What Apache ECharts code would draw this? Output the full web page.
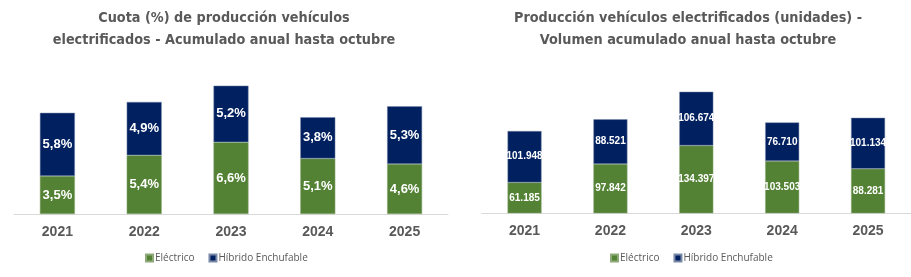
<!DOCTYPE html>
<html>
<head>
<meta charset="utf-8">
<script src="https://cdn.jsdelivr.net/npm/echarts@6/dist/echarts.min.js"></script>
<style>
  body { margin: 0; background: #fff; }
  #wrap { width: 911px; height: 277px; display: flex; }
  #cuotaChart { width: 455px; height: 277px; }
  #volumenChart { width: 456px; height: 277px; }
</style>
</head>
<body>
<div id="wrap">
  <div id="cuotaChart"></div>
  <div id="volumenChart"></div>
</div>
<script>
// datos
const anios = ['2021', '2022', '2023', '2024', '2025'];
const cuotaElectrico = [3.5, 5.4, 6.6, 5.1, 4.6];
const cuotaHibrido = [5.8, 4.9, 5.2, 3.8, 5.3];
const volElectrico = [61185, 97842, 134397, 103503, 88281];
const volHibrido = [101948, 88521, 106674, 76710, 101134];
const nombres = ['Eléctrico', 'Híbrido Enchufable'];

const VERDE = '#548235';
const AZUL = '#002060';
const GRIS = '#595959';

const fmtPct = v => v.toFixed(1).replace('.', ',') + '%';
const fmtMiles = v => String(v).replace(/\B(?=(\d{3})+(?!\d))/g, '.');

function titulo(lineas, x) {
    return lineas.map((t, i) => ({
        type: 'text',
        x: x,
        y: 18.5 + i * 22,
        style: {
            text: t,
            fill: GRIS,
            font: 'bold 14.3px "DejaVu Sans Condensed", sans-serif',
            textAlign: 'center',
            textVerticalAlign: 'middle'
        }
    }));
}

function getOption(cfg) {
    return {
        animation: false,
        graphic: titulo(cfg.titulo, cfg.tituloX),
        legend: {
            data: nombres,
            left: cfg.legendLeft,
            top: 248,
            itemWidth: 7,
            itemHeight: 7,
            itemGap: 14,
            icon: 'rect',
            textStyle: { color: GRIS, fontSize: 10, fontFamily: 'Open Sans', padding: [0, 0, 0, -3] }
        },
        grid: cfg.grid,
        xAxis: {
            type: 'category',
            data: anios,
            axisLine: { lineStyle: { color: '#d9d9d9', width: 1 } },
            axisTick: { show: false },
            axisLabel: {
                color: GRIS,
                fontSize: 14,
                fontWeight: 'bold',
                fontFamily: 'Liberation Sans',
                margin: 11
            }
        },
        yAxis: {
            type: 'value',
            min: 0,
            max: cfg.max,
            show: false,
            splitLine: { show: false }
        },
        series: [
            {
                name: nombres[0],
                type: 'bar',
                stack: 'total',
                data: cfg.electrico,
                barWidth: cfg.barWidth,
                itemStyle: { color: VERDE, borderColor: '#8faa7a', borderWidth: 0.5 },
                label: {
                    show: true,
                    position: 'inside',
                    color: '#fff',
                    fontWeight: 'bold',
                    fontSize: cfg.labelSize,
                    fontFamily: 'Liberation Sans',
                    formatter: p => cfg.fmt(p.value)
                }
            },
            {
                name: nombres[1],
                type: 'bar',
                stack: 'total',
                data: cfg.hibrido,
                barWidth: cfg.barWidth,
                itemStyle: { color: AZUL, borderColor: '#7a8aa8', borderWidth: 0.5 },
                label: {
                    show: true,
                    position: 'inside',
                    color: '#fff',
                    fontWeight: 'bold',
                    fontSize: cfg.labelSize,
                    fontFamily: 'Liberation Sans',
                    formatter: p => cfg.fmt(p.value)
                }
            }
        ]
    };
}

const chart1 = echarts.init(document.getElementById('cuotaChart'));
chart1.setOption(getOption({
    titulo: ['Cuota (%) de producción vehículos', 'electrificados - Acumulado anual hasta octubre'],
    tituloX: 224,
    legendLeft: 140,
    grid: { left: 14, right: 7, top: 61.7, bottom: 63 },
    max: 14,
    barWidth: 35,
    labelSize: 13,
    electrico: cuotaElectrico,
    hibrido: cuotaHibrido,
    fmt: fmtPct
}));

const chart2 = echarts.init(document.getElementById('volumenChart'));
chart2.setOption(getOption({
    titulo: ['Producción vehículos electrificados (unidades) -', 'Volumen acumulado anual hasta octubre'],
    tituloX: 233,
    legendLeft: 150,
    grid: { left: 26.6, right: 0, top: 62, bottom: 63.7 },
    max: 300000,
    barWidth: 34,
    labelSize: 10,
    electrico: volElectrico,
    hibrido: volHibrido,
    fmt: fmtMiles
}));
</script>
</body>
</html>
